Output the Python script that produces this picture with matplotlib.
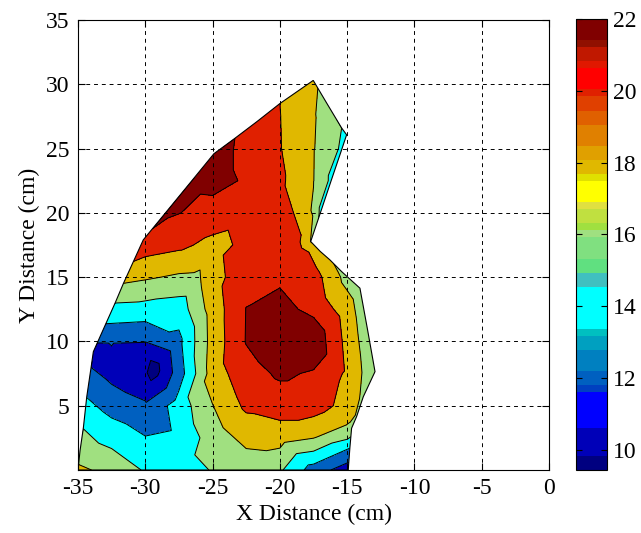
import numpy as np
import matplotlib
matplotlib.use('Agg')
import matplotlib.pyplot as plt
import matplotlib.tri as mtri
from matplotlib.colors import ListedColormap, Normalize
from matplotlib.path import Path
from matplotlib.patches import Polygon
from matplotlib.cm import ScalarMappable

plt.rcParams['font.family'] = ['Liberation Serif', 'DejaVu Serif']
plt.rcParams['font.size'] = 17
plt.rcParams['axes.unicode_minus'] = False

# measured points: x (cm), y (cm), value
pts_x = [-35, -32.5, -30, -27.5, -25, -22.5, -20, -17.5, -14.92,
         -32.5, -30, -27.5, -25, -22.5, -20, -17.5, -15,
         -32.5, -30, -27.5, -25, -22.5, -20, -17.5, -15,
         -32.5, -30, -27.5, -25, -22.5, -20, -17.5, -15,
         -32.5, -30, -27.5, -25, -22.5, -20, -17.5, -15,
         -30, -27.5, -25, -22.5, -20, -17.5, -15,
         -30, -27.5, -25, -22.5, -20, -17.5, -15,
         -30, -27.5, -25, -22.5, -20,
         -27.5, -25, -22.5, -20, -17.5,
         -25, -22.5, -20, -17.5,
         -22.5, -20, -17.5,
         -20, -17.5,
         -29.4, -26.2, -18.0]
pts_y = [0, 0, 0, 0, 0, 0, 0, 0, 0,
         2.5, 2.5, 2.5, 2.5, 2.5, 2.5, 2.5, 2.5,
         5, 5, 5, 5, 5, 5, 5, 5,
         7.5, 7.5, 7.5, 7.5, 7.5, 7.5, 7.5, 7.5,
         10, 10, 10, 10, 10, 10, 10, 10,
         12.5, 12.5, 12.5, 12.5, 12.5, 12.5, 12.5,
         15, 15, 15, 15, 15, 15, 15,
         17.5, 17.5, 17.5, 17.5, 17.5,
         20, 20, 20, 20, 20,
         22.5, 22.5, 22.5, 22.5,
         25, 25, 25,
         27.5, 27.5,
         7.8, 15.0, 17.8]
pts_v = [18.4, 17.4, 15.8, 15.2, 16.1, 16.8, 16.3, 13.1, 10.9,
         15.3, 14.1, 14.5, 16.9, 18.6, 18.8, 18.05, 16.3,
         13.2, 12.3, 14.9, 17.95, 20.4, 21.0, 21.0, 19.3,
         11.4, 10.3, 13.0, 19.0, 21.2, 22.3, 21.8, 19.7,
         12.1, 12.05, 13.5, 18.8, 22.1, 23.4, 23.5, 19.4,
         15.2, 14.9, 18.9, 22.05, 22.6, 21.5, 19.0,
         18.26, 17.7, 19.2, 21.3, 21.7, 20.9, 17.3,
         21.0, 20.46, 19.4, 20.4, 21.2,
         22.05, 21.3, 20.7, 21.5, 17.8,
         22.6, 21.8, 20.4, 18.05,
         21.8, 20.1, 18.1,
         20.05, 18.2,
         9.0, 17.6, 19.6]

# outline of the measured area (counter-clockwise) with values on it
edge_x = [-35, -14.92, -14.8, -14.67, -14.3, -13.8, -12.93, -13.5, -14.05,
          -15.41, -16.28, -17.0, -17.71, -16.99, -16.19, -15.38, -15.04,
          -15.41, -16.5, -17.52, -20.0, -21.7, -23.34, -24.9, -26.54,
          -28.5, -29.52, -30.15, -30.89, -31.63, -32.25, -32.94, -33.58,
          -33.86, -34.02, -34.35, -34.6, -34.85]
edge_y = [0, 0, 1.7, 3.25, 4.15, 5.7, 7.65, 11.0, 14.14,
          15.43, 16.34, 17.0, 17.77, 20.0, 22.5, 25.0, 26.07,
          26.6, 28.5, 30.3, 28.5, 27.1, 25.8, 24.6, 22.5,
          20.0, 18.7, 17.9, 16.2, 14.5, 12.97, 11.36, 9.86,
          9.2, 8.04, 5.7, 3.3, 1.5]
edge_v = [18.4, 10.9, 14.0, 17.5, 17.8, 17.6, 16.5, 16.8, 16.9,
          17.6, 18.2, 18.6, 17.9, 15.6, 15.6, 15.7, 15.0,
          16.0, 17.0, 18.5, 20.0, 21.0, 22.0, 22.3, 22.5,
          22.3, 21.98, 21.2, 19.98, 17.98, 15.98, 13.98, 11.98,
          11.5, 11.95, 13.95, 15.95, 17.0]

levels = [10, 12, 14, 16, 18, 20, 22]
vmin, vmax = 9.44, 22.0

# 64 entry colormap, bottom to top, (colour, repeat)
cmap_entries = [('#000080', 2), ('#0000b8', 4), ('#0000ff', 5), ('#0040c0', 1),
                ('#0060c0', 2), ('#0080c0', 3), ('#00a0c0', 2), ('#00c0c0', 1),
                ('#00ffff', 6), ('#40c0c0', 2), ('#60e080', 2), ('#80e080', 3),
                ('#a0e080', 1), ('#a0e040', 1), ('#c0e040', 2), ('#e0e040', 1),
                ('#ffff00', 3), ('#e0e000', 1), ('#e0b800', 2), ('#e0a000', 2),
                ('#e08000', 3), ('#e06000', 2), ('#e04000', 2), ('#e02000', 1),
                ('#ff0000', 3), ('#e01800', 1), ('#c01800', 2), ('#901000', 1),
                ('#800000', 3)]
cmap = ListedColormap([c for c, n in cmap_entries for _ in range(n)])
norm = Normalize(vmin=vmin, vmax=vmax)

# first outline point is already a measured point
x = np.array(pts_x + edge_x[1:])
y = np.array(pts_y + edge_y[1:])
v = np.array(pts_v + edge_v[1:])

tri = mtri.Triangulation(x, y)
outline = Path(np.column_stack([edge_x, edge_y]))
cx = x[tri.triangles].mean(axis=1)
cy = y[tri.triangles].mean(axis=1)
tri.set_mask(~outline.contains_points(np.column_stack([cx, cy]), radius=0.05))

fill_levels = [v.min() - 1] + levels + [v.max() + 1]
fill_colors = [cmap(norm(max(lv, vmin))) for lv in fill_levels[:-1]]

fig = plt.figure(figsize=(6.41, 5.33), dpi=100)
ax = fig.add_axes([0.1217, 0.1182, 0.7348, 0.8443])

clip = Polygon(np.column_stack([edge_x, edge_y]), closed=True, transform=ax.transData)
cf = ax.tricontourf(tri, v, levels=fill_levels, colors=fill_colors)
cl = ax.tricontour(tri, v, levels=levels, colors='k', linewidths=0.7)
cf.set_clip_path(clip)
cl.set_clip_path(clip)
ax.add_patch(Polygon(np.column_stack([edge_x, edge_y]), closed=True, fill=False,
                     edgecolor='k', linewidth=0.8, zorder=2))

ax.set_xlim(-35, 0)
ax.set_ylim(0, 35)
ax.set_xticks(np.arange(-35, 1, 5))
ax.set_yticks(np.arange(5, 36, 5))
ax.set_axisbelow(False)
ax.grid(True, color='k', linestyle=(0, (4, 4)), linewidth=0.7)
ax.tick_params(direction='in', top=True, right=True, length=5, width=0.8, pad=6)
for s in ax.spines.values():
    s.set_linewidth(0.8)
ax.set_xlabel('X Distance (cm)', labelpad=3)
ax.set_ylabel('Y Distance (cm)', labelpad=4)

cax = fig.add_axes([0.8986, 0.1182, 0.0484, 0.8462])
cb = fig.colorbar(ScalarMappable(norm=norm, cmap=cmap), cax=cax)
cb.set_ticks(np.arange(10, 23, 2))
cax.tick_params(direction='in', left=True, right=True, length=4, width=0.8, pad=4)
cb.outline.set_linewidth(0.8)

fig.savefig('out.png', dpi=100)
